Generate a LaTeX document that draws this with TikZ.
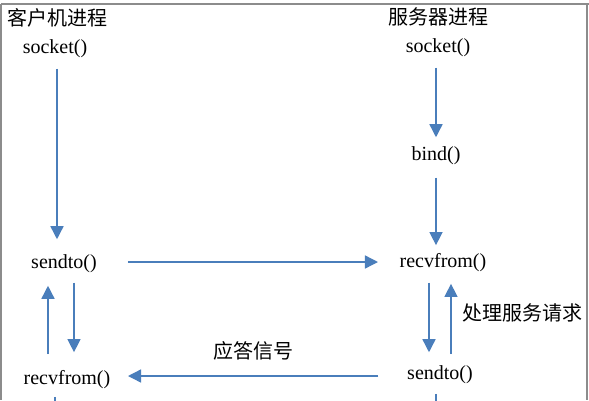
\documentclass[tikz,border=0pt]{standalone}
\usepackage{fontspec}
\setmainfont{Liberation Serif}
\newfontfamily\cjk{Noto Sans CJK SC}
\usetikzlibrary{arrows.meta}
\definecolor{arrblue}{HTML}{4A7EBB}
\definecolor{framegray}{HTML}{8C8C8C}
\begin{document}
\begin{tikzpicture}[x=1pt,y=-1pt,
  txt/.style={inner sep=0pt,font=\fontsize{20}{20}\selectfont},
  cn/.style={inner sep=0pt,font=\fontsize{20}{20}\selectfont\cjk},
  arr/.style={draw=arrblue,line width=1.4pt,-{Triangle[width=13pt,length=13pt]},fill=arrblue},
  plain/.style={draw=arrblue,line width=1.4pt},
  frame/.style={draw=framegray,line width=1.6pt}]
\useasboundingbox (0,0) rectangle (589,400);
\clip (0,0) rectangle (589,400);
\fill[white] (0,0) rectangle (589,400);
% frame
\draw[frame] (1,4) -- (589,4);
\draw[frame] (1,4) -- (1,400);
\draw[frame] (587,4) -- (587,400);
% nodes
\node[cn]  (cTitle) at (58,18)  {客户机进程};
\node[cn]  (sTitle) at (438,17) {服务器进程};
\node[txt] (cSock)  at (55,49)  {socket()};
\node[txt] (sSock)  at (438,48) {socket()};
\node[txt] (sBind)  at (436,156) {bind()};
\node[txt] (cSend)  at (64,264) {sendto()};
\node[txt] (sRecv)  at (443,263) {recvfrom()};
\node[txt] (cRecv)  at (67,380) {recvfrom()};
\node[txt] (sSend)  at (440,375) {sendto()};
\node[cn]  (lProc)  at (522,313) {处理服务请求};
\node[cn]  (lResp)  at (253,351) {应答信号};
\coordinate (cOut) at (55,412);
\coordinate (sOut) at (436,412);
% connectors
\draw[arr] ([xshift=2pt,yshift=-10.5pt]cSock.south) -- ([xshift=-7pt,yshift=15.5pt]cSend.north);
\draw[arr] ([xshift=-2pt,yshift=-10.5pt]sSock.south) -- ([yshift=9.5pt]sBind.north);
\draw[arr] ([yshift=-12.5pt]sBind.south) -- ([xshift=-7pt,yshift=8.5pt]sRecv.north);
\draw[arr] ([xshift=31pt,yshift=2pt]cSend.east) -- ([xshift=-21.5pt,yshift=1pt]sRecv.west);
\draw[arr] ([xshift=10pt,yshift=-9.5pt]cSend.south) -- ([xshift=7pt,yshift=18.5pt]cRecv.north);
\draw[arr] ([xshift=-19pt,yshift=16.5pt]cRecv.north) -- ([xshift=-16pt,yshift=-12.5pt]cSend.south);
\draw[arr] ([xshift=-14pt,yshift=-10.5pt]sRecv.south) -- ([xshift=-11pt,yshift=13.5pt]sSend.north);
\draw[arr] ([xshift=11pt,yshift=11.5pt]sSend.north) -- ([xshift=8pt,yshift=-11.5pt]sRecv.south);
\draw[arr] ([xshift=-29pt,yshift=-1pt]sSend.west) -- ([xshift=17.5pt,yshift=4pt]cRecv.east);
\draw[plain] ([xshift=-12pt,yshift=-7.5pt]cRecv.south) -- (cOut);
\draw[plain] ([xshift=-4pt,yshift=-9.5pt]sSend.south) -- (sOut);
\end{tikzpicture}
\end{document}
